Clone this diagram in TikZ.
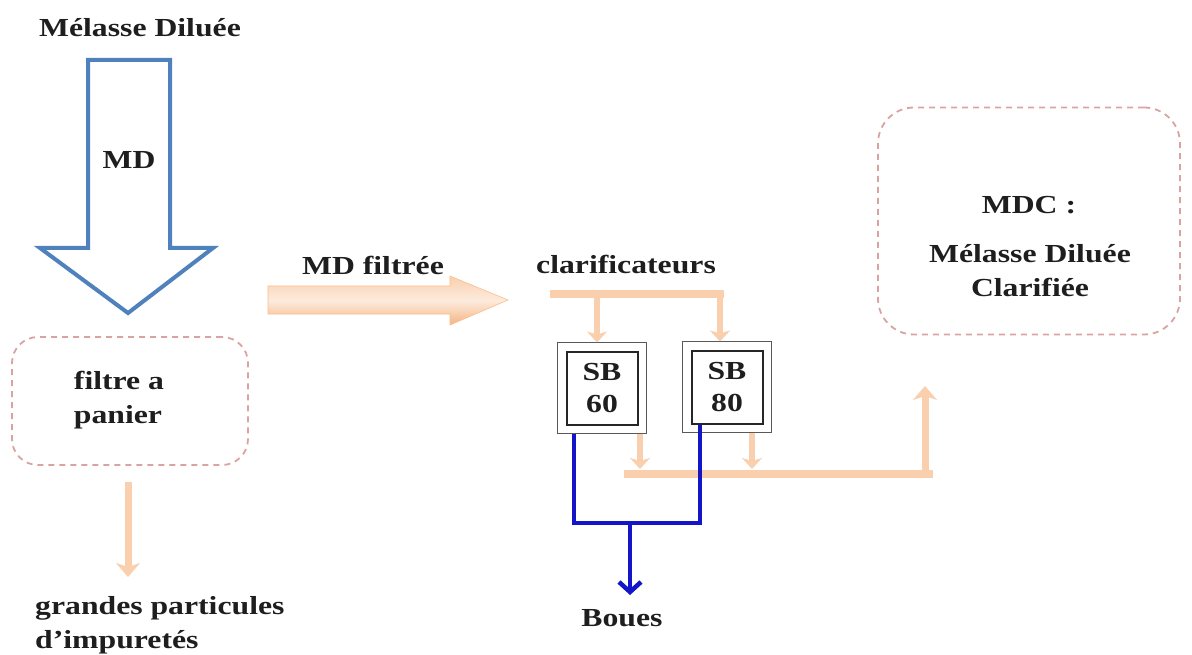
\documentclass[tikz,border=0pt]{standalone}
\usepackage{fontspec}
\setmainfont[FakeStretch=1.22]{Liberation Serif}
\usetikzlibrary{arrows.meta}
\definecolor{mdblue}{HTML}{4F81BD}
\definecolor{peach}{HTML}{F9CFAE}
\definecolor{peachdark}{HTML}{F4B483}
\definecolor{peachlight}{HTML}{FDEBDD}
\definecolor{boxred}{HTML}{D9A3A1}
\definecolor{mudblue}{HTML}{1414C8}
\definecolor{txt}{HTML}{1E1E1E}
\tikzset{
  lbl/.style={text=txt, font=\fontsize{26}{34}\selectfont\bfseries, inner sep=0pt},
  dashbox/.style={draw=boxred, line width=1.8pt, rounded corners=#1, dash pattern=on 6pt off 5pt},
  sbbox/.style={draw=black!85, line width=2pt,
    minimum width=71pt, minimum height=73pt, inner sep=0pt, align=center,
    text=txt, font=\fontsize{26}{32}\selectfont\bfseries},
  sbouter/.style={draw=black!65, line width=1.6pt},
  pipe/.style={draw=peach, line width=8pt},
  pipearrow/.style={draw=peach, line width=7pt, -{Stealth[length=14pt,width=24pt,inset=4pt]}},
  smallpipearrow/.style={draw=peach, line width=6pt, -{Stealth[length=11pt,width=20pt,inset=3pt]}},
  mud/.style={draw=mudblue, line width=4.5pt},
}
\begin{document}
\begin{tikzpicture}[x=1pt,y=-1pt]
\useasboundingbox (0,0) rectangle (1192,655);

% title
\node[lbl] (md_title) at (140,28) {Mélasse Diluée};

% hollow blue arrow
\draw[mdblue, line width=4pt, line join=miter]
  (88,60) -- (170,60) -- (170,248) -- (213,248) -- (128,313) -- (40,248) -- (88,248) -- cycle;
\node[lbl] (md) at (129,160) {MD};

% filtre a panier box
\node[dashbox=26pt, minimum width=236pt, minimum height=128pt] (filtre) at (130,401) {};
\node[lbl, align=left] (filtre_txt) at (119,400) {filtre a\\panier};

% arrow to grandes particules
\coordinate (gp_top) at (128,482);
\coordinate (gp_tip) at (128,577);
\draw[pipearrow] (gp_top) -- (gp_tip);
\node[lbl, align=left, anchor=north west] (grandes) at (35,596) {grandes particules\\d'impuretés};

% big arrow MD filtree
\shade[top color=peach, bottom color=peachdark, middle color=peachlight, draw=peach!80!orange, line width=0.6pt]
  (268,286) -- (450,286) -- (450,276) -- (508,300) -- (450,325) -- (450,314) -- (268,314) -- cycle;
\node[lbl] (mdf) at (373,265) {MD filtrée};

% clarificateurs
\node[lbl] (clar) at (626,265) {clarificateurs};
\coordinate (bar_l) at (550,294);
\coordinate (bar_r) at (724,294);
\coordinate (b60) at (597,294);
\coordinate (b80) at (720,294);
\draw[pipe] (bar_l) -- (bar_r);

% SB boxes (double frames)
\node[sbbox] (sb60) at (602,388) {SB\\60};
\node[sbbox] (sb80) at (727,387) {SB\\80};
\draw[sbouter] ([xshift=-8pt,yshift=-8pt]sb60.south west) rectangle ([xshift=8pt,yshift=8pt]sb60.north east);
\draw[sbouter] ([xshift=-8pt,yshift=-8pt]sb80.south west) rectangle ([xshift=8pt,yshift=8pt]sb80.north east);

\draw[smallpipearrow] (b60) -- ([yshift=8pt]b60 |- sb60.north);
\draw[smallpipearrow] (b80) -- ([yshift=8pt]b80 |- sb80.north);

% outflow to MDC
\coordinate (o60) at (640,474);
\coordinate (o80) at (752,474);
\coordinate (low_l) at (628,474);
\coordinate (low_r) at (925,474);
\draw[smallpipearrow] ([yshift=-8pt]sb60.south -| o60) -- (640,469);
\draw[smallpipearrow] ([yshift=-8pt]sb80.south -| o80) -- (752,469);
\draw[pipe, line cap=rect] (low_l) -- (929,474);
\coordinate (up_tip) at (925,386);
\draw[pipearrow] (low_r) -- (up_tip);

% MDC box
\node[dashbox=36pt, minimum width=302pt, minimum height=227pt] (mdc) at (1029,221) {};
\node[lbl] (mdc_t1) at (1029,205) {MDC :};
\node[lbl, align=center] (mdc_t2) at (1030,271) {Mélasse Diluée\\Clarifiée};

% boues
\coordinate (m60) at (574,523);
\coordinate (m80) at (700,523);
\coordinate (mmid) at (630,523);
\draw[mud, line join=miter] ([yshift=-8pt]sb60.south -| m60) -- (m60) -- (m80) -- (sb80.south -| m80);
\node[lbl] (boues) at (622,618) {Boues};
\draw[mud, -{Straight Barb[length=10pt,width=22pt]}] (mmid) -- (630,595);
\end{tikzpicture}
\end{document}
